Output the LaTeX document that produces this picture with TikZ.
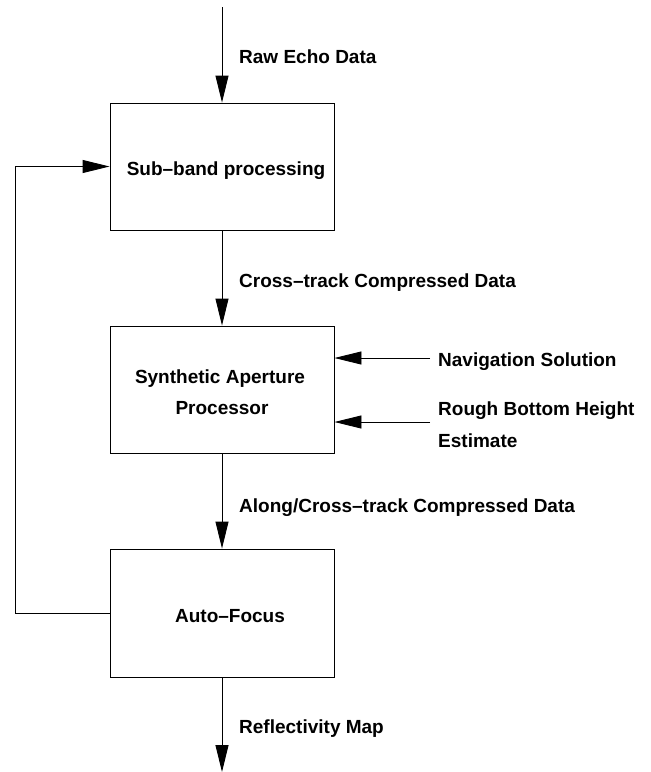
\documentclass[tikz,border=0pt]{standalone}
\usepackage{fontspec}
\setmainfont{Liberation Sans}
\usetikzlibrary{arrows.meta}
\begin{document}
\begin{tikzpicture}[x=1pt,y=-1pt,
  box/.style={draw=black,line width=0.9pt,minimum width=224pt,minimum height=127pt,inner sep=0pt},
  lbl/.style={anchor=base west,inner sep=0pt,font=\bfseries\fontsize{19}{31}\selectfont},
  boxtxt/.style={anchor=base,inner sep=0pt,align=center,font=\bfseries\fontsize{19}{31}\selectfont},
  arr/.style={line width=0.9pt,-{Triangle[length=27pt,width=13pt]}},
  ln/.style={line width=0.9pt}]
\useasboundingbox (0,0) rectangle (651,772);
% boxes
\node[box] (b1) at (222,166.5) {};
\node[box] (b2) at (222,389.5) {};
\node[box,minimum height=128pt] (b3) at (222,613) {};
% box texts
\node[boxtxt] (t1) at (226,175) {Sub–band processing};
\node[boxtxt] (t2) at (220,383) {Synthetic Aperture};
\node[boxtxt] (t2b) at (222,414) {Processor};
\node[boxtxt] (t3) at (230,622) {Auto–Focus};
% free ends
\coordinate (in) at (222,7);
\coordinate (out) at (222,772);
\coordinate (nav) at (430,358);
\coordinate (rough) at (430,422);
\coordinate (fb) at (15,613);
% connectors
\draw[arr] (in) -- (b1.north);
\draw[arr] (b1.south) -- (b2.north);
\draw[arr] (b2.south) -- (b3.north);
\draw[arr] (b3.south) -- (out);
\draw[arr] (nav) -- (nav -| b2.east);
\draw[arr] (rough) -- (rough -| b2.east);
\draw[arr] (b3.west) -- (fb) |- (b1.west);
% labels
\node[lbl] (l1) at (239,63) {Raw Echo Data};
\node[lbl] (l2) at (239,287) {Cross–track Compressed Data};
\node[lbl] (l3) at (438,366) {Navigation Solution};
\node[lbl] (l4) at (438,415) {Rough Bottom Height};
\node[lbl] (l5) at (438,447) {Estimate};
\node[lbl] (l6) at (239,512) {Along/Cross–track Compressed Data};
\node[lbl] (l7) at (239,733) {Reflectivity Map};
\end{tikzpicture}
\end{document}
